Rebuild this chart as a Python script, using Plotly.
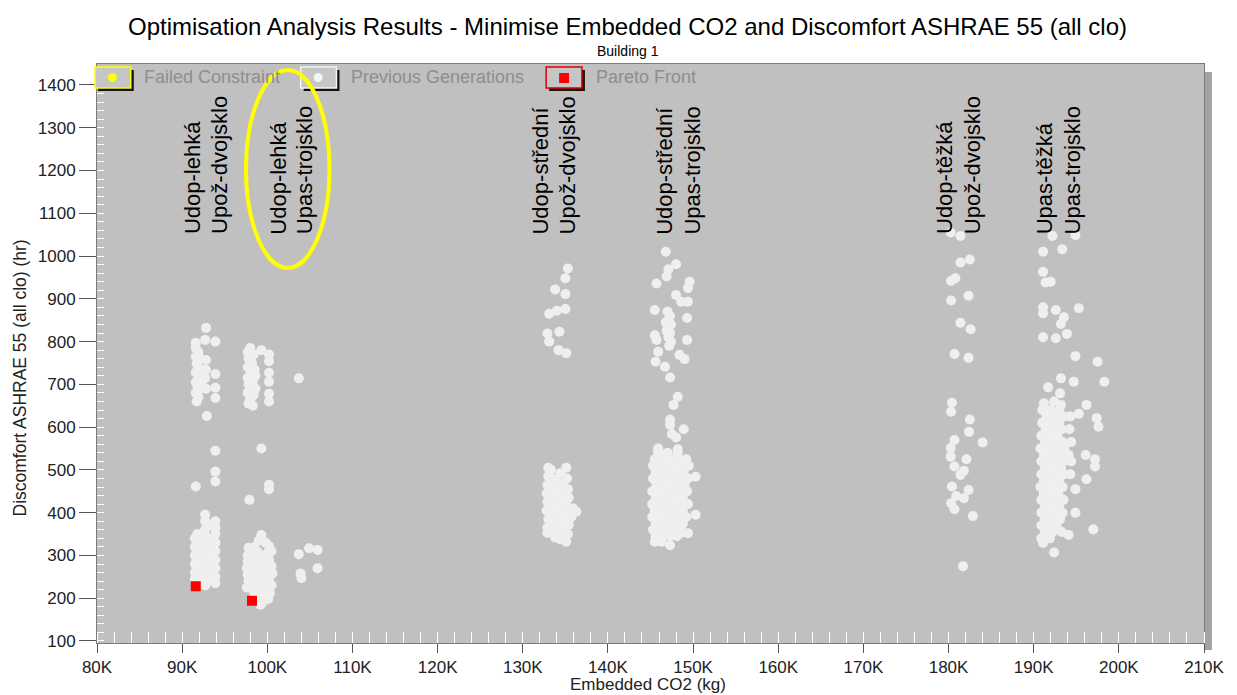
import plotly.graph_objects as go

# ---------------- data (x = Embedded CO2 in thousands of kg, y = discomfort hours) ----------------
cluster_a = [(92.8,832),(91.6,797),(92.7,804),(93.9,800),(91.6,785),(91.9,775),(91.6,765),(92.1,760),(92.8,757),
             (91.7,748),(92.0,738),(92.8,734),(92.2,730),(91.6,728),(93.9,724),(91.9,720),(92.7,715),(92.2,712),
             (91.6,705),(92.3,700),(91.8,695),(93.9,692),(92.8,690),(92.0,688),(91.6,680),(91.9,670),(93.9,668),
             (91.7,660),(92.9,626),(93.9,545),(93.9,496),(93.9,473),(91.6,461),
             (92.7,395),(93.9,380),(92.7,380),(93.5,370),(93.9,365),(92.7,360),(91.8,350),(93.9,350),(92.7,345),
             (91.5,340),(92.3,340),(93.5,340),(91.8,330),(93.9,330),(92.7,325),(91.5,320),(92.3,320),(93.5,320),
             (93.0,315),(91.8,310),(93.9,310),(92.7,305),(91.5,300),(92.3,300),(93.5,300),(93.0,295),(91.8,290),
             (93.9,290),(92.7,285),(91.5,280),(92.3,280),(93.5,280),(93.0,275),(91.8,270),(93.9,270),(92.7,265),
             (91.5,260),(92.3,260),(93.5,260),(93.0,255),(91.8,250),(93.9,250),(92.7,245),(91.5,245),(92.3,240),
             (93.5,240),(91.8,235),(93.9,235),(92.7,230)]

cluster_b = [(98.0,785),(99.3,780),(97.7,775),(100.2,770),(98.4,770),(97.8,760),(100.2,754),(98.2,750),(97.7,740),
             (98.5,735),(100.2,727),(98.0,725),(98.6,720),(97.7,715),(98.3,708),(100.2,706),(97.8,700),(98.1,690),
             (98.6,690),(97.7,680),(100.2,678),(98.4,675),(98.0,665),(100.2,660),(97.8,655),(98.3,650),
             (103.7,714),(99.3,550),(100.2,465),(100.2,455),(97.9,430),
             (99.3,348),(99.0,335),(99.8,330),(98.5,320),(97.8,318),(100.2,322),(97.7,300),(98.2,305),(98.8,310),
             (99.4,300),(100.0,305),(100.5,310),(97.7,285),(98.3,290),(98.9,285),(99.5,288),(100.2,290),(97.6,270),
             (98.1,272),(98.7,268),(99.3,272),(99.9,270),(100.5,275),(97.7,255),(98.3,255),(98.9,252),(99.5,256),
             (100.1,255),(100.6,258),(97.8,240),(98.4,238),(99.0,240),(99.6,238),(100.2,242),(97.6,225),(98.2,222),
             (98.8,225),(99.4,222),(100.0,225),(100.5,230),(98.5,210),(99.1,205),(99.7,208),(100.3,212),(98.8,195),
             (99.5,192),(100.1,198),(99.2,185),
             (103.7,303),(104.9,317),(105.9,313),(105.9,270),(103.9,258),(104.0,247)]

cluster_c = [(135.3,971),(135.0,948),(133.8,922),(135.0,911),(133.1,865),(134.0,872),(135.0,876),(132.9,819),
             (133.1,800),(134.3,823),(134.2,780),(135.1,773),
             (133.0,505),(133.3,500),(134.4,492),(135.1,505),(133.0,485),(133.6,478),(134.2,470),(135.2,480),
             (132.9,465),(133.5,458),(134.0,450),(134.8,460),(135.3,455),(132.8,445),(133.4,438),(134.1,432),
             (134.7,440),(135.4,435),(132.9,425),(133.5,418),(134.0,412),(134.6,420),(135.2,415),(135.9,410),
             (136.3,402),(132.8,405),(133.3,398),(133.9,392),(134.5,398),(135.1,395),(135.7,390),(133.0,385),
             (133.6,378),(134.2,372),(134.8,380),(135.4,372),(132.9,365),(133.5,358),(134.1,352),(134.7,360),
             (135.3,350),(132.9,353),(133.8,342),(134.4,338),(135.1,332),(135.0,345)]

cluster_d = [(146.8,1010),(148.0,981),(147.1,969),(146.9,952),(149.6,940),(145.7,936),(149.4,925),(148.0,909),
             (148.6,893),(149.4,893),(145.5,874),(147.0,870),(147.3,860),(149.3,855),(147.1,850),(146.8,845),
             (147.4,840),(147.0,830),(146.9,825),(147.3,820),(145.5,815),(147.1,810),(145.7,804),(149.3,804),
             (147.4,800),(147.2,790),(145.9,776),(148.4,769),(149.0,759),(145.6,753),(146.7,741),(147.3,716),
             (148.2,671),(147.7,652),(147.3,617),(147.3,605),(148.9,595),(147.5,584),(148.0,576),(145.9,550),
             (148.2,548),
             (145.9,540),(147.0,540),(148.2,540),(145.5,525),(146.4,525),(147.4,525),(148.4,525),(149.2,525),
             (145.3,510),(146.0,510),(146.8,510),(147.6,510),(148.5,510),(149.5,510),(145.6,495),(146.5,495),
             (147.2,495),(148.0,495),(148.9,495),(150.3,484),(145.3,480),(146.1,480),(146.9,480),(147.8,480),
             (148.6,480),(149.4,480),(145.7,465),(146.5,465),(147.3,465),(148.2,465),(149.0,465),(145.2,450),
             (146.0,450),(146.8,450),(147.6,450),(148.4,450),(149.3,450),(145.6,435),(146.4,435),(147.2,435),
             (148.0,435),(148.8,435),(145.2,420),(146.0,420),(146.8,420),(147.6,420),(148.5,420),(149.4,420),
             (145.5,405),(146.3,405),(147.1,405),(147.9,405),(148.8,405),(150.3,395),(145.2,390),(146.0,390),
             (146.8,390),(147.6,390),(148.4,390),(149.2,390),(145.6,375),(146.4,375),(147.2,375),(148.0,375),
             (148.8,375),(145.3,360),(146.1,360),(146.9,360),(147.7,360),(148.6,360),(149.4,352),(148.5,352),
             (145.6,345),(146.5,345),(147.3,345),(148.1,345),(145.5,332),(146.3,332),(147.3,324)]

cluster_e = [(180.25,1055),(181.4,1047),(181.4,985),(182.5,992),(180.3,942),(180.8,948),(180.3,896),(182.35,907),
             (181.4,844),(182.6,829),(180.7,771),(182.35,762),(180.4,657),(180.3,636),(182.5,618),(182.4,589),
             (184.0,564),(180.7,570),(180.25,551),(180.25,531),(180.7,508),(182.1,525),(181.8,498),(181.4,488),
             (180.4,461),(180.9,439),(182.35,453),(181.8,434),(180.3,422),(180.7,408),(182.85,392),(181.7,275)]

cluster_f = [(192.2,1047),(194.9,1049),(191.1,1010),(193.35,1016),(191.1,963),(191.4,938),(192.0,940),(191.1,880),
             (191.1,866),(192.6,874),(193.55,857),(193.2,841),(195.3,878),(191.1,810),(192.6,808),(193.9,818),
             (194.9,766),(197.5,753),(198.3,706),(193.2,714),(194.7,706),(191.7,693),(193.1,679),(196.2,652),
             (193.2,652),(195.3,631),(197.4,621),(197.6,601),(191.2,656),
             (192.4,660),(191.0,640),(192.0,640),(193.0,640),(191.5,625),(192.5,625),(193.6,625),(194.3,625),
             (191.0,610),(191.9,610),(193.0,610),(191.4,595),(192.3,595),(193.3,595),(194.2,595),(190.9,580),
             (191.8,580),(192.8,580),(191.3,565),(192.3,565),(193.4,565),(194.4,565),(190.8,550),(191.7,550),
             (192.6,550),(193.6,550),(191.2,535),(192.1,535),(193.1,535),(194.1,535),(190.9,520),(191.8,520),
             (192.7,520),(193.5,520),(194.4,520),(191.3,505),(192.2,505),(193.2,505),(190.9,490),(191.7,490),
             (192.6,490),(193.6,490),(194.3,490),(191.2,475),(192.1,475),(193.0,475),(190.8,460),(191.6,460),
             (192.5,460),(193.4,460),(191.2,445),(192.0,445),(192.9,445),(190.9,430),(191.7,430),(192.6,430),
             (193.5,430),(191.3,415),(192.1,415),(193.0,415),(190.9,400),(191.7,400),(192.6,400),(193.4,400),
             (191.3,385),(192.2,385),(193.1,385),(190.9,370),(191.8,370),(192.7,370),(191.3,355),(192.2,355),
             (193.3,355),(190.9,340),(191.9,340),(191.1,329),(192.4,307),
             (196.1,535),(197.2,525),(197.2,508),(196.2,478),(194.9,455),(194.9,400),(197.0,361),(194.1,348)]

previous = cluster_a + cluster_b + cluster_c + cluster_d + cluster_e + cluster_f
prev_x = [p[0] for p in previous]
prev_y = [p[1] for p in previous]

pareto_x = [91.6, 98.2]
pareto_y = [228, 194]

failed_x = []
failed_y = []

x_ticks = [80, 90, 100, 110, 120, 130, 140, 150, 160, 170, 180, 190, 200, 210]
x_ticktext = ["80K", "90K", "100K", "110K", "120K", "130K", "140K", "150K", "160K", "170K",
              "180K", "190K", "200K", "210K"]
y_ticks = [100, 200, 300, 400, 500, 600, 700, 800, 900, 1000, 1100, 1200, 1300, 1400]

label_lines = ["Udop-lehká", "Upož-dvojsklo", "Udop-lehká", "Upas-trojsklo",
               "Udop-střední", "Upož-dvojsklo", "Udop-střední", "Upas-trojsklo",
               "Udop-těžká", "Upož-dvojsklo", "Upas-těžká", "Upas-trojsklo"]
label_x = [91.3, 94.4, 101.35, 104.4, 132.1, 135.2, 146.7, 149.9, 179.6, 182.85, 191.2, 194.5]
label_base = 1046

# ---------------- layout helpers (pixel -> paper) ----------------
W, H = 1237, 695
L, R, T, B = 97, 26, 64, 52
PW, PH = W - L - R, H - T - B
def pxx(x):
    return (x - L) / PW
def pxy(y):
    return (H - B - y) / PH

FONT = "Liberation Sans, Arial, sans-serif"

fig = go.Figure()
fig.add_trace(go.Scatter(x=failed_x, y=failed_y, mode="markers", name="Failed Constraint",
                         marker=dict(color="#ffff00", size=10), showlegend=False))
fig.add_trace(go.Scatter(x=prev_x, y=prev_y, mode="markers", name="Previous Generations",
                         marker=dict(color="#efefef", size=10, line=dict(width=0)), showlegend=False))
fig.add_trace(go.Scatter(x=pareto_x, y=pareto_y, mode="markers", name="Pareto Front",
                         marker=dict(color="#ff0000", size=10, symbol="square", line=dict(width=0)),
                         showlegend=False))

shapes = []
# shadow on the right of plot area
shapes.append(dict(type="rect", xref="paper", yref="paper", x0=pxx(1211), x1=pxx(1219),
                   y0=pxy(650), y1=pxy(72), fillcolor="#a3a3a3", line=dict(width=0), layer="below"))
# legend boxes
legend_boxes = [(95, "#ffff00"), (302, "#f4f4f4"), (549, "#e00000")]
for bx, col in legend_boxes:
    shapes.append(dict(type="rect", xref="paper", yref="paper", x0=pxx(bx + 3), x1=pxx(bx + 39),
                       y0=pxy(91), y1=pxy(70), fillcolor="#111111", line=dict(width=0)))
    shapes.append(dict(type="rect", xref="paper", yref="paper", x0=pxx(bx), x1=pxx(bx + 36),
                       y0=pxy(88), y1=pxy(67), fillcolor="#c6c6c6", line=dict(color=col, width=1.5)))
shapes.append(dict(type="circle", xref="paper", yref="paper", x0=pxx(108), x1=pxx(117),
                   y0=pxy(82), y1=pxy(73), fillcolor="#ffff00", line=dict(width=0)))
shapes.append(dict(type="circle", xref="paper", yref="paper", x0=pxx(315), x1=pxx(324),
                   y0=pxy(82), y1=pxy(73), fillcolor="#f4f4f4", line=dict(width=0)))
shapes.append(dict(type="rect", xref="paper", yref="paper", x0=pxx(562), x1=pxx(572),
                   y0=pxy(83), y1=pxy(73), fillcolor="#ff0000", line=dict(width=0)))
# highlight ellipse
shapes.append(dict(type="circle", xref="x", yref="y", x0=97.5, x1=107.3, y0=972, y1=1435,
                   line=dict(color="#ffff00", width=4)))

annotations = []
annotations.append(dict(xref="paper", yref="paper", x=pxx(631), y=pxy(27), showarrow=False, borderpad=0,
                        text="Optimisation Analysis Results - Minimise Embedded CO2 and Discomfort ASHRAE 55 (all clo)",
                        font=dict(family=FONT, size=24, color="#000000"), xanchor="center", yanchor="middle"))
annotations.append(dict(xref="paper", yref="paper", x=pxx(631), y=pxy(51), showarrow=False, borderpad=0,
                        text="Building 1", font=dict(family=FONT, size=14, color="#000000"),
                        xanchor="center", yanchor="middle"))
annotations.append(dict(xref="paper", yref="paper", x=pxx(20), y=pxy(378), showarrow=False, textangle=-90,
                        text="Discomfort ASHRAE 55 (all clo) (hr)", font=dict(family=FONT, size=17.5, color="#222222"),
                        xanchor="center", yanchor="middle"))
annotations.append(dict(xref="paper", yref="paper", x=pxx(651), y=pxy(684), showarrow=False, borderpad=0,
                        text="Embedded CO2 (kg)", font=dict(family=FONT, size=17, color="#222222"),
                        xanchor="center", yanchor="middle"))
for tx, txt in [(142, "Failed Constraint"), (351, "Previous Generations"), (597, "Pareto Front")]:
    annotations.append(dict(xref="paper", yref="paper", x=pxx(tx), y=pxy(77), showarrow=False, text=txt,
                            font=dict(family=FONT, size=18, color="#8e8e8e"), xanchor="left", yanchor="middle"))
for lx, txt in zip(label_x, label_lines):
    annotations.append(dict(xref="x", yref="y", x=lx, y=label_base, showarrow=False, text=txt, textangle=-90,
                            font=dict(family=FONT, size=22, color="#000000"), xanchor="center", yanchor="bottom"))

fig.update_layout(
    width=W, height=H, autosize=False,
    margin=dict(l=L, r=R, t=T, b=B),
    paper_bgcolor="#ffffff", plot_bgcolor="#c0c0c0",
    font=dict(family=FONT, color="#222222"),
    shapes=shapes, annotations=annotations, showlegend=False,
    xaxis=dict(range=[80, 210], tickvals=x_ticks, ticktext=x_ticktext, ticks="outside", ticklen=9,
               tickcolor="#555555", tickfont=dict(size=17, color="#222222"), showgrid=False, zeroline=False,
               showline=True, linecolor="#7a7a7a", linewidth=1, mirror=True,
               minor=dict(ticks="inside", ticklen=11, tickcolor="#ffffff", dtick=2, tick0=80, showgrid=False)),
    yaxis=dict(range=[95.3, 1449], tickvals=y_ticks, ticks="outside", ticklen=17, tickcolor="#555555",
               tickfont=dict(size=17, color="#222222"), showgrid=False, zeroline=False,
               showline=True, linecolor="#7a7a7a", linewidth=1, mirror=True,
               minor=dict(ticks="inside", ticklen=7, tickcolor="#ffffff", dtick=20, tick0=0, showgrid=False)),
)

fig.write_html("out.html")
